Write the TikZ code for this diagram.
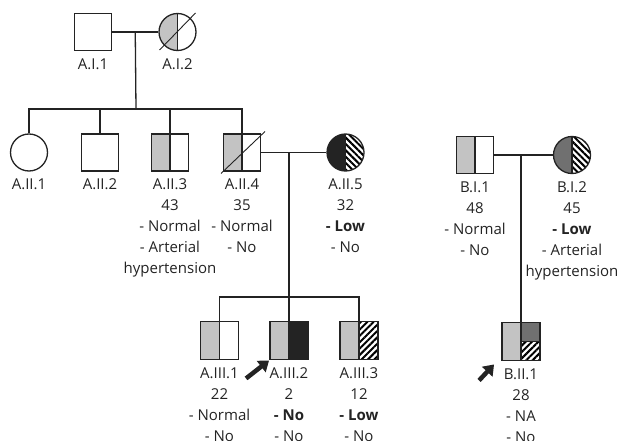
\documentclass[tikz,border=0pt]{standalone}
\usepackage{fontspec}
\setmainfont{Open Sans}
\usetikzlibrary{arrows.meta,positioning,calc,patterns.meta}
\definecolor{lgray}{RGB}{195,195,195}
\definecolor{dgray}{RGB}{112,112,112}
\definecolor{edge}{RGB}{35,35,35}

\begin{document}
\begin{tikzpicture}[
    x=1pt, y=-1pt,
    male/.style={rectangle, draw=edge, fill=white, line width=1.3pt, minimum size=37pt, inner sep=0pt},
    female/.style={circle, draw=edge, fill=white, line width=1.3pt, minimum size=37pt, inner sep=0pt},
    child/.style={male, line width=1.9pt, minimum size=38pt},
    split/.style 2 args={path picture={
        \fill[#1] (path picture bounding box.south west) rectangle (path picture bounding box.north);
        \fill[#2] (path picture bounding box.south) rectangle (path picture bounding box.north east);
        \draw[edge, line width=1.3pt] (path picture bounding box.north) -- (path picture bounding box.south);}},
    quarter/.style n args={3}{path picture={
        \fill[#1] (path picture bounding box.south west) rectangle (path picture bounding box.north);
        \fill[#2] (path picture bounding box.center) rectangle (path picture bounding box.north east);
        \fill[#3] (path picture bounding box.south) rectangle (path picture bounding box.east);
        \draw[edge, line width=1.3pt] (path picture bounding box.north) -- (path picture bounding box.south);
        \draw[edge, line width=1.3pt] (path picture bounding box.center) -- (path picture bounding box.east);}},
    hatcha/.style={pattern={Lines[angle=45, distance=4.5pt, line width=2pt]}},
    hatchb/.style={pattern={Lines[angle=-45, distance=4.5pt, line width=2pt]}},
    lbl/.style={font=\fontsize{15}{21}\selectfont, align=center, inner sep=0pt, text=edge},
    line/.style={line width=1.3pt, draw=edge},
    dead/.style={line width=0.9pt, draw=edge},
    proband/.style={-{Triangle[length=10pt, width=14pt]}, line width=4.5pt, draw=edge, fill=edge}
]
    \useasboundingbox (0,0) rectangle (623,441);

    \node [male] (a11) at (93,32) {};
    \node [female, split={lgray}{white}] (a12) at (177.5,32) {};
    \node [female] (a21) at (29,152.5) {};
    \node [male] (a22) at (100,152.5) {};
    \node [male, split={lgray}{white}] (a23) at (170,152.5) {};
    \node [male, split={lgray}{white}] (a24) at (242,152.5) {};
    \node [female, split={edge}{hatchb}] (a25) at (345.5,152.5) {};
    \node [male, split={lgray}{white}] (b11) at (475,155) {};
    \node [female, split={dgray}{hatchb}] (b12) at (572,155) {};
    \node [child, split={lgray}{white}] (a31) at (219.5,340.5) {};
    \node [child, split={lgray}{edge}] (a32) at (289,340.5) {};
    \node [child, split={lgray}{hatcha}] (a33) at (359,340.5) {};
    \node [child, quarter={lgray}{dgray}{hatcha}] (b21) at (521,341.5) {};

    \draw [dead] ($(a12.center)+(-18,18)$) -- ($(a12.center)+(18,-19)$);
    \draw [dead] ($(a24.center)+(-21,21)$) -- ($(a24.center)+(23,-21)$);

    \node [lbl, below=7pt of a11] (t11) {A.I.1};
    \node [lbl, below=7pt of a12] (t12) {A.I.2};
    \node [lbl, below=7pt of a21] (t21) {A.II.1};
    \node [lbl, below=7pt of a22] (t22) {A.II.2};
    \node [lbl, below=7pt of a23] (t23) {A.II.3\\43\\- Normal\\- Arterial\\hypertension};
    \node [lbl, below=7pt of a24] (t24) {A.II.4\\35\\- Normal\\- No};
    \node [lbl, below=7pt of a25] (t25) {A.II.5\\32\\\textbf{- Low}\\- No};
    \node [lbl, below=7pt of b11] (tb11) {B.I.1\\48\\- Normal\\- No};
    \node [lbl, below=7pt of b12] (tb12) {B.I.2\\45\\\textbf{- Low}\\- Arterial\\hypertension};
    \node [lbl, below=7pt of a31] (t31) {A.III.1\\22\\- Normal\\- No};
    \node [lbl, below=7pt of a32] (t32) {A.III.2\\2\\\textbf{- No}\\- No};
    \node [lbl, below=7pt of a33] (t33) {A.III.3\\12\\\textbf{- Low}\\- No};
    \node [lbl, below=7pt of b21] (tb21) {B.II.1\\28\\- NA\\- No};

    \coordinate (m1) at ($(a11.east)!0.5!(a12.west)$);
    \coordinate (s1) at (136,109);
    \coordinate (m2) at (289,152.5);
    \coordinate (s2) at (289,297);

    \draw [line] (a11) -- (a12);
    \draw [line] (m1) -- (s1);
    \draw [line] (a21.north) |- (s1) -| (a24.north);
    \draw [line] (a22.north) -- (a22.north |- s1);
    \draw [line] (a23.north) -- (a23.north |- s1);

    \draw [line] (a24) -- (a25);
    \draw [line] (m2) -- (s2);
    \draw [line] (a31.north) |- (s2) -| (a33.north);
    \draw [line] (a32.north) -- (a32.north |- s2);

    \draw [line] (b11) -- (b12);
    \draw [line] (b21.north) -- (b21.north |- b11.east);

    \coordinate (p1) at ($(a32.south west)+(-23,18)$);
    \coordinate (p2) at ($(b21.south west)+(-22,19)$);
    \coordinate (p2e) at ($(b21.south west)+(-7,3)$);
    \draw [proband] (p1) -- (a32.south west);
    \draw [proband] (p2) -- (p2e);
\end{tikzpicture}
\end{document}
